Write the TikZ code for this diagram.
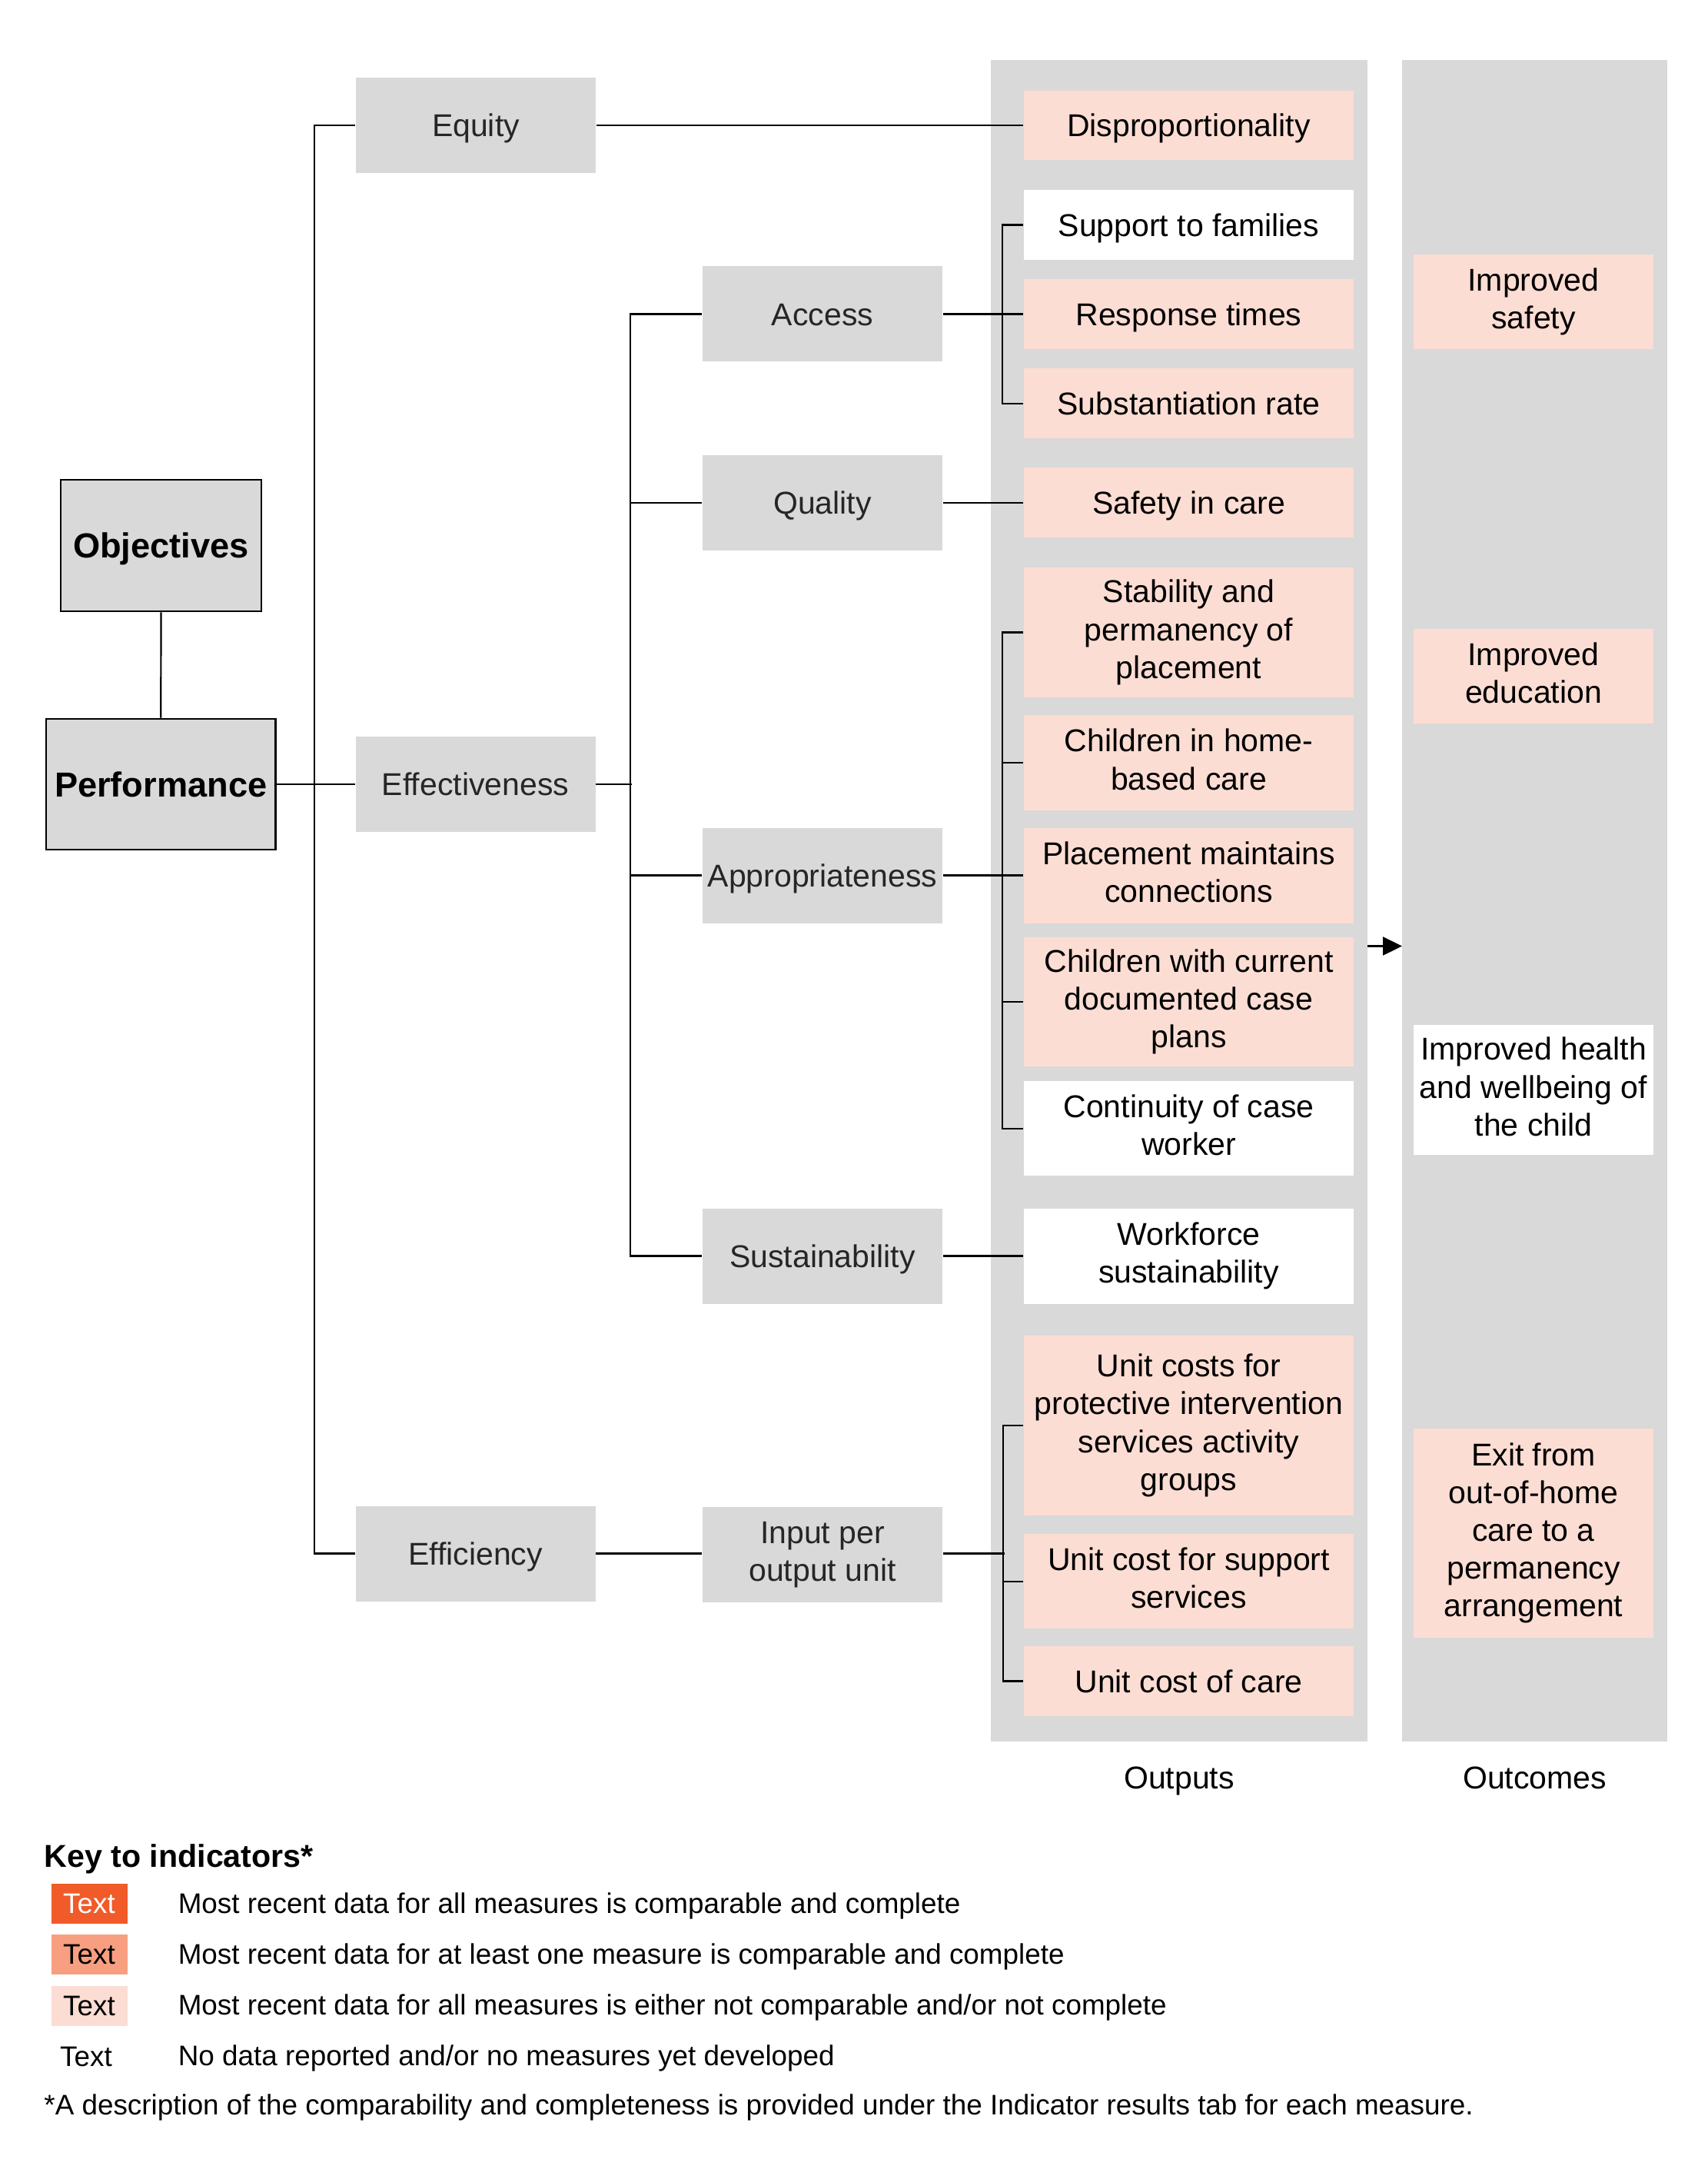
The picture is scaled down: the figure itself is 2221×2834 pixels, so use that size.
\documentclass[tikz,border=0pt]{standalone}
\usepackage{fontspec}
\setmainfont{Liberation Sans}
\usetikzlibrary{arrows.meta}
\definecolor{cgray}{HTML}{D9D9D9}
\definecolor{cpeach}{HTML}{FBDDD3}
\definecolor{cdark}{HTML}{F15A29}
\definecolor{cmid}{HTML}{F79F80}
\newcommand\mfs{\fontsize{10.25pt}{12.3pt}\selectfont}
\newcommand\bfs{\fontsize{11.3pt}{13pt}\selectfont\bfseries}
\newcommand\lfs{\fontsize{9.21pt}{11pt}\selectfont}
\tikzset{
  vc/.style={execute at begin node={\rule{0pt}{0.926em}}, execute at end node={\rule[-0.21em]{0pt}{0pt}}},
  conn/.style={draw=black, line width=0.55pt},
  topbox/.style={vc, draw=black, line width=0.65pt, fill=cgray, font=\bfs, inner sep=1pt},
  lvl/.style={vc, fill=cgray, text=black!85, minimum width=78pt, minimum height=31pt, inner sep=1pt, align=center, font=\mfs},
  obox/.style={vc, fill=cpeach, text=black, minimum width=107.25pt, inner sep=1pt, align=center, font=\mfs},
  wbox/.style={obox, fill=white},
  cbox/.style={vc, fill=cpeach, text=black, minimum width=78pt, inner sep=1pt, align=center, font=\mfs},
  cwbox/.style={cbox, fill=white},
  colbg/.style={fill=cgray, inner sep=0pt},
  swatch/.style={minimum width=24.75pt, minimum height=13pt, inner sep=0pt, font=\lfs},
  legtext/.style={anchor=base west, inner sep=0pt, font=\lfs},
}
\begin{document}
\begin{tikzpicture}[x=0.25pt, y=-0.25pt]
\fill[white] (0,0) rectangle (2221,2834);
\useasboundingbox (0,0) rectangle (2221,2834);

% column backgrounds
\node[colbg, minimum width=122.5pt, minimum height=546.75pt] (outcol) at (1534,1171.5) {};
\node[colbg, minimum width=86.25pt, minimum height=546.75pt] (inccol) at (1996.5,1171.5) {};
\node[anchor=base, font=\mfs, inner sep=0pt] (outlab) at (1534,2326) {Outputs};
\node[anchor=base, font=\mfs, inner sep=0pt] (inclab) at (1996.5,2326) {Outcomes};

% left boxes
\node[topbox, minimum width=65.25pt, minimum height=42.75pt] (obj) at (209.5,709.5) {Objectives};
\node[topbox, minimum width=74.6pt, minimum height=42.5pt] (perf) at (209.25,1020) {Performance};

% level 2
\node[lvl] (equity) at (619,163) {Equity};
\node[lvl] (eff) at (618.5,1020) {Effectiveness};
\node[lvl] (effic) at (618.5,2020.5) {Efficiency};

% level 3
\node[lvl] (access) at (1070,408.5) {Access};
\node[lvl] (quality) at (1070,654) {Quality};
\node[lvl] (approp) at (1070,1138.5) {Appropriateness};
\node[lvl] (sustain) at (1070,1633.5) {Sustainability};
\node[lvl] (input) at (1070,2022) {Input per\\output unit};

% outputs
\node[obox, minimum height=22.5pt] (dispro) at (1546.5,163) {Disproportionality};
\node[wbox, minimum height=22.75pt] (supp) at (1546.5,292.5) {Support to families};
\node[obox, minimum height=22.75pt] (resp) at (1546.5,408.5) {Response times};
\node[obox, minimum height=22.75pt] (subst) at (1546.5,524.7) {Substantiation rate};
\node[obox, minimum height=22.75pt] (safety) at (1546.5,654) {Safety in care};
\node[obox, minimum height=42.25pt] (stab) at (1546.5,822.5) {Stability and\\permanency of\\placement};
\node[obox, minimum height=31pt] (home) at (1546.5,992) {Children in home-\\based care};
\node[obox, minimum height=31pt] (place) at (1546.5,1138.5) {Placement maintains\\connections};
\node[obox, minimum height=42pt] (plans) at (1546.5,1303) {Children with current\\documented case\\plans};
\node[wbox, minimum height=30.9pt] (contin) at (1546.5,1467.6) {Continuity of case\\worker};
\node[wbox, minimum height=31pt] (workf) at (1546.5,1633.5) {Workforce\\sustainability};
\node[obox, minimum height=58.5pt] (ucprot) at (1546.5,1854) {Unit costs for\\protective intervention\\services activity\\groups};
\node[obox, minimum height=30.75pt] (ucsupp) at (1546.5,2056.6) {Unit cost for support\\services};
\node[obox, minimum height=22.75pt] (uccare) at (1546.5,2186.5) {Unit cost of care};

% outcomes
\node[cbox, minimum height=30.75pt] (isafe) at (1995,392.5) {Improved\\safety};
\node[cbox, minimum height=30.75pt] (iedu) at (1995,879.5) {Improved\\education};
\node[cwbox, minimum height=42.25pt] (ihealth) at (1995,1417.6) {Improved health\\and wellbeing of\\the child};
\node[cbox, minimum height=68pt] (iexit) at (1995,1994) {Exit from\\out-of-home\\care to a\\permanency\\arrangement};

% connectors
\draw[conn] (obj.south) -- (perf.north);
\draw[conn] (perf.east) -- (eff.west);
\draw[conn] (equity.west) -- ++(-53,0) |- (effic.west);
\draw[conn] (equity.east) -- (dispro.west);
\draw[conn] (eff.east) -- ++(47,0);
\draw[conn] (access.west) -- ++(-93,0) |- (sustain.west);
\draw[conn] (quality.west) -- ++(-93,0);
\draw[conn] (approp.west) -- ++(-93,0);
\draw[conn] (effic.east) -- (effic.east -| input.west);

\draw[conn] (access.east) -- (resp.west);
\draw[conn] (supp.west) -- ++(-27,0) |- (subst.west);
\draw[conn] (quality.east) -- (safety.west);
\draw[conn] (approp.east) -- (place.west);
\draw[conn] (stab.west) -- ++(-27,0) |- (contin.west);
\draw[conn] (home.west) -- ++(-27,0);
\draw[conn] (plans.west) -- ++(-27,0);
\draw[conn] (sustain.east) -- (workf.west);
\draw[conn] (effic.east -| input.east) -- ++(80,0);
\draw[conn] (ucprot.west) -- ++(-26,0) |- (uccare.west);
\draw[conn] (ucsupp.west) -- ++(-26,0);

\coordinate (a1) at (1779,1230.5);
\coordinate (a2) at (1824,1230.5);
\draw[conn, -{Triangle[length=6.25pt, width=6pt]}] (a1) -- (a2);

% legend
\node[anchor=base west, inner sep=0pt, font=\fontsize{10.3pt}{12pt}\selectfont\bfseries] (keyh) at (56.7,2428) {Key to indicators*};
\node[swatch, fill=cdark, text=white] (sw1) at (116,2476) {Text};
\node[swatch, fill=cmid] (sw2) at (116,2542) {Text};
\node[swatch, fill=cpeach] (sw3) at (116,2609) {Text};
\node[swatch] (sw4) at (112,2675) {Text};
\node[legtext] (l1) at (231,2488) {Most recent data for all measures is comparable and complete};
\node[legtext] (l2) at (231,2554) {Most recent data for at least one measure is comparable and complete};
\node[legtext] (l3) at (231,2620) {Most recent data for all measures is either not comparable and/or not complete};
\node[legtext] (l4) at (231,2686) {No data reported and/or no measures yet developed};
\node[legtext] (fn) at (56.7,2750.7) {*A description of the comparability and completeness is provided under the Indicator results tab for each measure.};
\end{tikzpicture}
\end{document}
